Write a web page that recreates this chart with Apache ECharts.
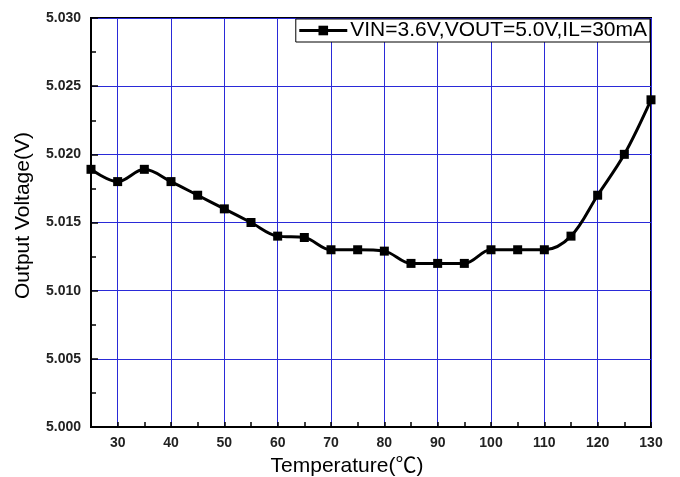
<!DOCTYPE html>
<html><head><meta charset="utf-8">
<script src="https://cdn.jsdelivr.net/npm/echarts@6/dist/echarts.min.js"></script>
<style>html,body{margin:0;padding:0;background:#fff}#c{width:680px;height:477px}</style>
</head><body><div id="c"></div>
<script>
var temperature = [25,30,35,40,45,50,55,60,65,70,75,80,85,90,95,100,105,110,115,120,125,130];
var voltage = [5.0189,5.018,5.0189,5.018,5.017,5.016,5.015,5.014,5.0139,5.013,5.013,5.0129,5.012,5.012,5.012,5.013,5.013,5.013,5.014,5.017,5.020,5.024];
var seriesName = 'VIN=3.6V,VOUT=5.0V,IL=30mA';

var chart = echarts.init(document.getElementById('c'));
var gridBlue = '#2a2ad8';
var labelFont = {fontFamily: 'Liberation Sans, Arial', fontSize: 14, fontWeight: 'bold', color: '#222'};
chart.setOption({
  animation: false,
  grid: {left: 91, right: 29, top: 18, bottom: 50, show: true, borderColor: '#000', borderWidth: 2, backgroundColor: '#fff', containLabel: false, outerBoundsMode: 'none'},
  legend: {
    data: [seriesName], right: 30, top: 19, orient: 'horizontal',
    backgroundColor: '#fff', borderColor: '#000', borderWidth: 1,
    padding: [1, 3, 1, 2], itemWidth: 48, itemHeight: 12, itemGap: 4,
    lineStyle: {width: 3, color: '#000'},
    textStyle: {fontFamily: 'Liberation Sans, Arial', fontSize: 21, color: '#000', padding: [0, 0, 0, -2]}
  },
  xAxis: {
    type: 'value', min: 25, max: 130, interval: 5,
    name: 'Temperature(℃)', nameLocation: 'middle', nameGap: 29,
    nameTextStyle: {fontFamily: 'Liberation Sans, Noto Sans CJK SC, Arial', fontSize: 21, color: '#000', padding: [0, 48, 0, 0]},
    axisLine: {show: true, lineStyle: {color: '#000', width: 2}},
    axisTick: {show: true, inside: true, length: 5, lineStyle: {color: '#000', width: 1.5}},
    axisLabel: Object.assign({
      margin: 9,
      formatter: function (v) { return (v % 10 === 0) ? String(v) : ''; }
    }, labelFont),
    splitLine: {show: true, lineStyle: {color: ['rgba(0,0,0,0)', gridBlue], width: 1}}
  },
  yAxis: {
    type: 'value', min: 5.000, max: 5.030, interval: 0.005,
    name: 'Output Voltage(V)', nameLocation: 'middle', nameGap: 57,
    nameTextStyle: {fontFamily: 'Liberation Sans, Arial', fontSize: 21, color: '#000', padding: [0, 0, 0, 14]},
    axisLine: {show: true, lineStyle: {color: '#000', width: 2}},
    axisTick: {show: true, inside: true, length: 7, lineStyle: {color: '#000', width: 1.5}},
    minorTick: {show: true, splitNumber: 2, length: 5, lineStyle: {color: '#000', width: 1.5}},
    axisLabel: Object.assign({
      margin: 10,
      formatter: function (v) { return v.toFixed(3); }
    }, labelFont),
    splitLine: {show: true, lineStyle: {color: gridBlue, width: 1}}
  },
  series: [{
    name: seriesName, type: 'line', smooth: 0.35,
    data: temperature.map(function (t, i) { return [t, voltage[i]]; }),
    symbol: 'rect', symbolSize: 9,
    lineStyle: {color: '#000', width: 3},
    itemStyle: {color: '#000'},
    z: 5
  }]
});
</script></body></html>
